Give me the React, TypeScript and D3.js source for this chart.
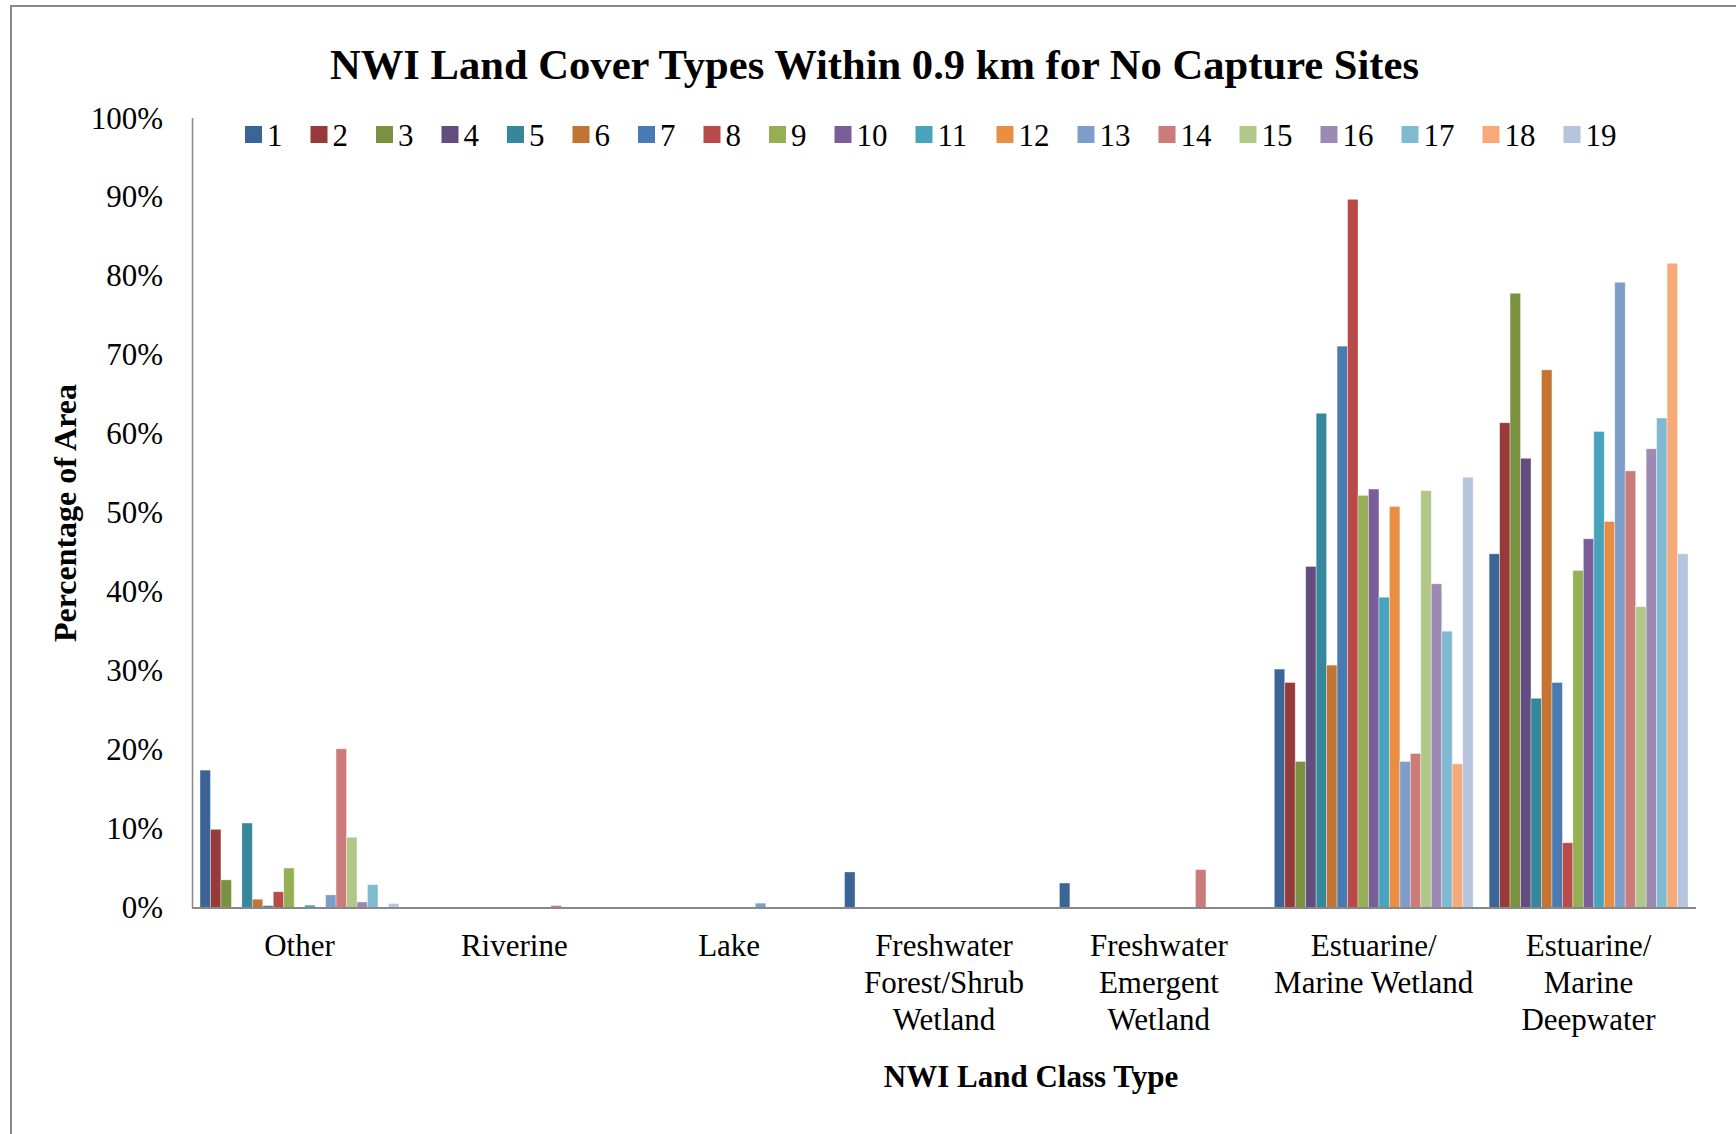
import React from "react";
import * as d3 from "d3";

const categories = ["Other", "Riverine", "Lake", "Freshwater Forest/Shrub Wetland", "Freshwater Emergent Wetland", "Estuarine/ Marine Wetland", "Estuarine/ Marine Deepwater"];
const categoryLines = [
  ["Other"],
  ["Riverine"],
  ["Lake"],
  ["Freshwater", "Forest/Shrub", "Wetland"],
  ["Freshwater", "Emergent", "Wetland"],
  ["Estuarine/", "Marine Wetland"],
  ["Estuarine/", "Marine", "Deepwater"],
];
const seriesNames = ["1","2","3","4","5","6","7","8","9","10","11","12","13","14","15","16","17","18","19"];
const seriesColors = ["#3C6597","#963B3A","#7A9140","#634D7E","#36879B","#C27533","#4A7AB2","#B84B49","#95B054","#7A5E99","#48A3BC","#E88D42","#7F9DC9","#CB7B7A","#B0C787","#9C8AB4","#7FBAD0","#F7AA78","#B6C4DE"];

const otherVals = [17.4, 9.9, 3.5, 0, 10.7, 1.05, 0.25, 2.0, 5.0, 0, 0.3, 0, 1.6, 20.1, 8.9, 0.7, 2.9, 0, 0.5];
const riverineVals = [0, 0, 0, 0, 0, 0, 0, 0, 0, 0, 0, 0, 0, 0.25, 0, 0, 0, 0, 0];
const lakeVals = [0, 0, 0, 0, 0, 0, 0, 0, 0, 0, 0, 0, 0.55, 0, 0, 0, 0, 0, 0];
const forestVals = [4.5, 0, 0, 0, 0, 0, 0, 0, 0, 0, 0, 0, 0, 0, 0, 0, 0, 0, 0];
const emergentVals = [3.1, 0, 0, 0, 0, 0, 0, 0, 0, 0, 0, 0, 0, 4.8, 0, 0, 0, 0, 0];
const wetlandVals = [30.2, 28.5, 18.5, 43.2, 62.6, 30.7, 71.1, 89.7, 52.2, 53.0, 39.3, 50.8, 18.5, 19.5, 52.8, 41.0, 35.0, 18.2, 54.5];
const deepwaterVals = [44.8, 61.4, 77.8, 56.9, 26.5, 68.1, 28.5, 8.2, 42.7, 46.7, 60.3, 48.9, 79.2, 55.3, 38.1, 58.1, 62.0, 81.6, 44.8];
const valuesByCategory = [otherVals, riverineVals, lakeVals, forestVals, emergentVals, wetlandVals, deepwaterVals];
const yTicks = [0, 10, 20, 30, 40, 50, 60, 70, 80, 90, 100];

const FONT = "'Liberation Serif', 'Times New Roman', serif";

export default function App() {
  const W = 1736, H = 1134;
  const x0 = d3.scaleBand<string>().domain(categories).range([192, 1696]).paddingInner(0).paddingOuter(0);
  const x1 = d3.scaleBand<string>().domain(seriesNames).range([0, x0.bandwidth()]).paddingInner(0).paddingOuter(0.764);
  const y = d3.scaleLinear().domain([0, 100]).range([907.5, 118]);

  // legend layout
  const legendItems: { name: string; color: string; x: number }[] = [];
  let lx = 245;
  seriesNames.forEach((n, i) => {
    legendItems.push({ name: n, color: seriesColors[i], x: lx });
    lx += 50 + n.length * 15.5;
  });

  return (
    <svg width={W} height={H} style={{ position: "absolute", left: 0, top: 0, background: "#fff" }} fontFamily={FONT}>
      <rect x={0} y={0} width={W} height={H} fill="#fff" />
      <rect x={11} y={6} width={W + 100} height={H + 100} fill="none" stroke="#888" strokeWidth={2} />
      <text x={874.5} y={78.5} textAnchor="middle" fontSize={42} fontWeight="bold" textLength={1089} lengthAdjust="spacingAndGlyphs">NWI Land Cover Types Within 0.9 km for No Capture Sites</text>

      {yTicks.map((t) => (
        <text key={t} x={163} y={y(t) + 10.5} textAnchor="end" fontSize={31}>{t}%</text>
      ))}

      {categories.map((c, ci) =>
        valuesByCategory[ci].map((v, si) =>
          v > 0 ? (
            <rect
              key={c + si}
              x={(x0(c) as number) + (x1(seriesNames[si]) as number)}
              y={y(v)}
              width={x1.bandwidth()}
              height={y(0) - y(v)}
              fill={seriesColors[si]}
              stroke="rgba(255,255,255,0.45)"
              strokeWidth={0.8}
            />
          ) : null
        )
      )}

      <line x1={192.5} x2={192.5} y1={118} y2={908} stroke="#888" strokeWidth={1.5} />
      <line x1={192} x2={1696} y1={908} y2={908} stroke="#888" strokeWidth={2} />

      {categories.map((c, ci) => (
        <text key={c} x={(x0(c) as number) + x0.bandwidth() / 2} textAnchor="middle" fontSize={31}>
          {categoryLines[ci].map((ln, li) => (
            <tspan key={li} x={(x0(c) as number) + x0.bandwidth() / 2} y={956 + li * 37}>{ln}</tspan>
          ))}
        </text>
      ))}

      <text x={1031} y={1087} textAnchor="middle" fontSize={31} fontWeight="bold">NWI Land Class Type</text>
      <text transform="translate(76,513) rotate(-90)" textAnchor="middle" fontSize={31} fontWeight="bold" textLength={258} lengthAdjust="spacingAndGlyphs">Percentage of Area</text>

      {legendItems.map((it) => (
        <g key={it.name}>
          <rect x={it.x} y={126} width={17} height={17} fill={it.color} />
          <text x={it.x + 22} y={145.5} fontSize={31}>{it.name}</text>
        </g>
      ))}
    </svg>
  );
}
